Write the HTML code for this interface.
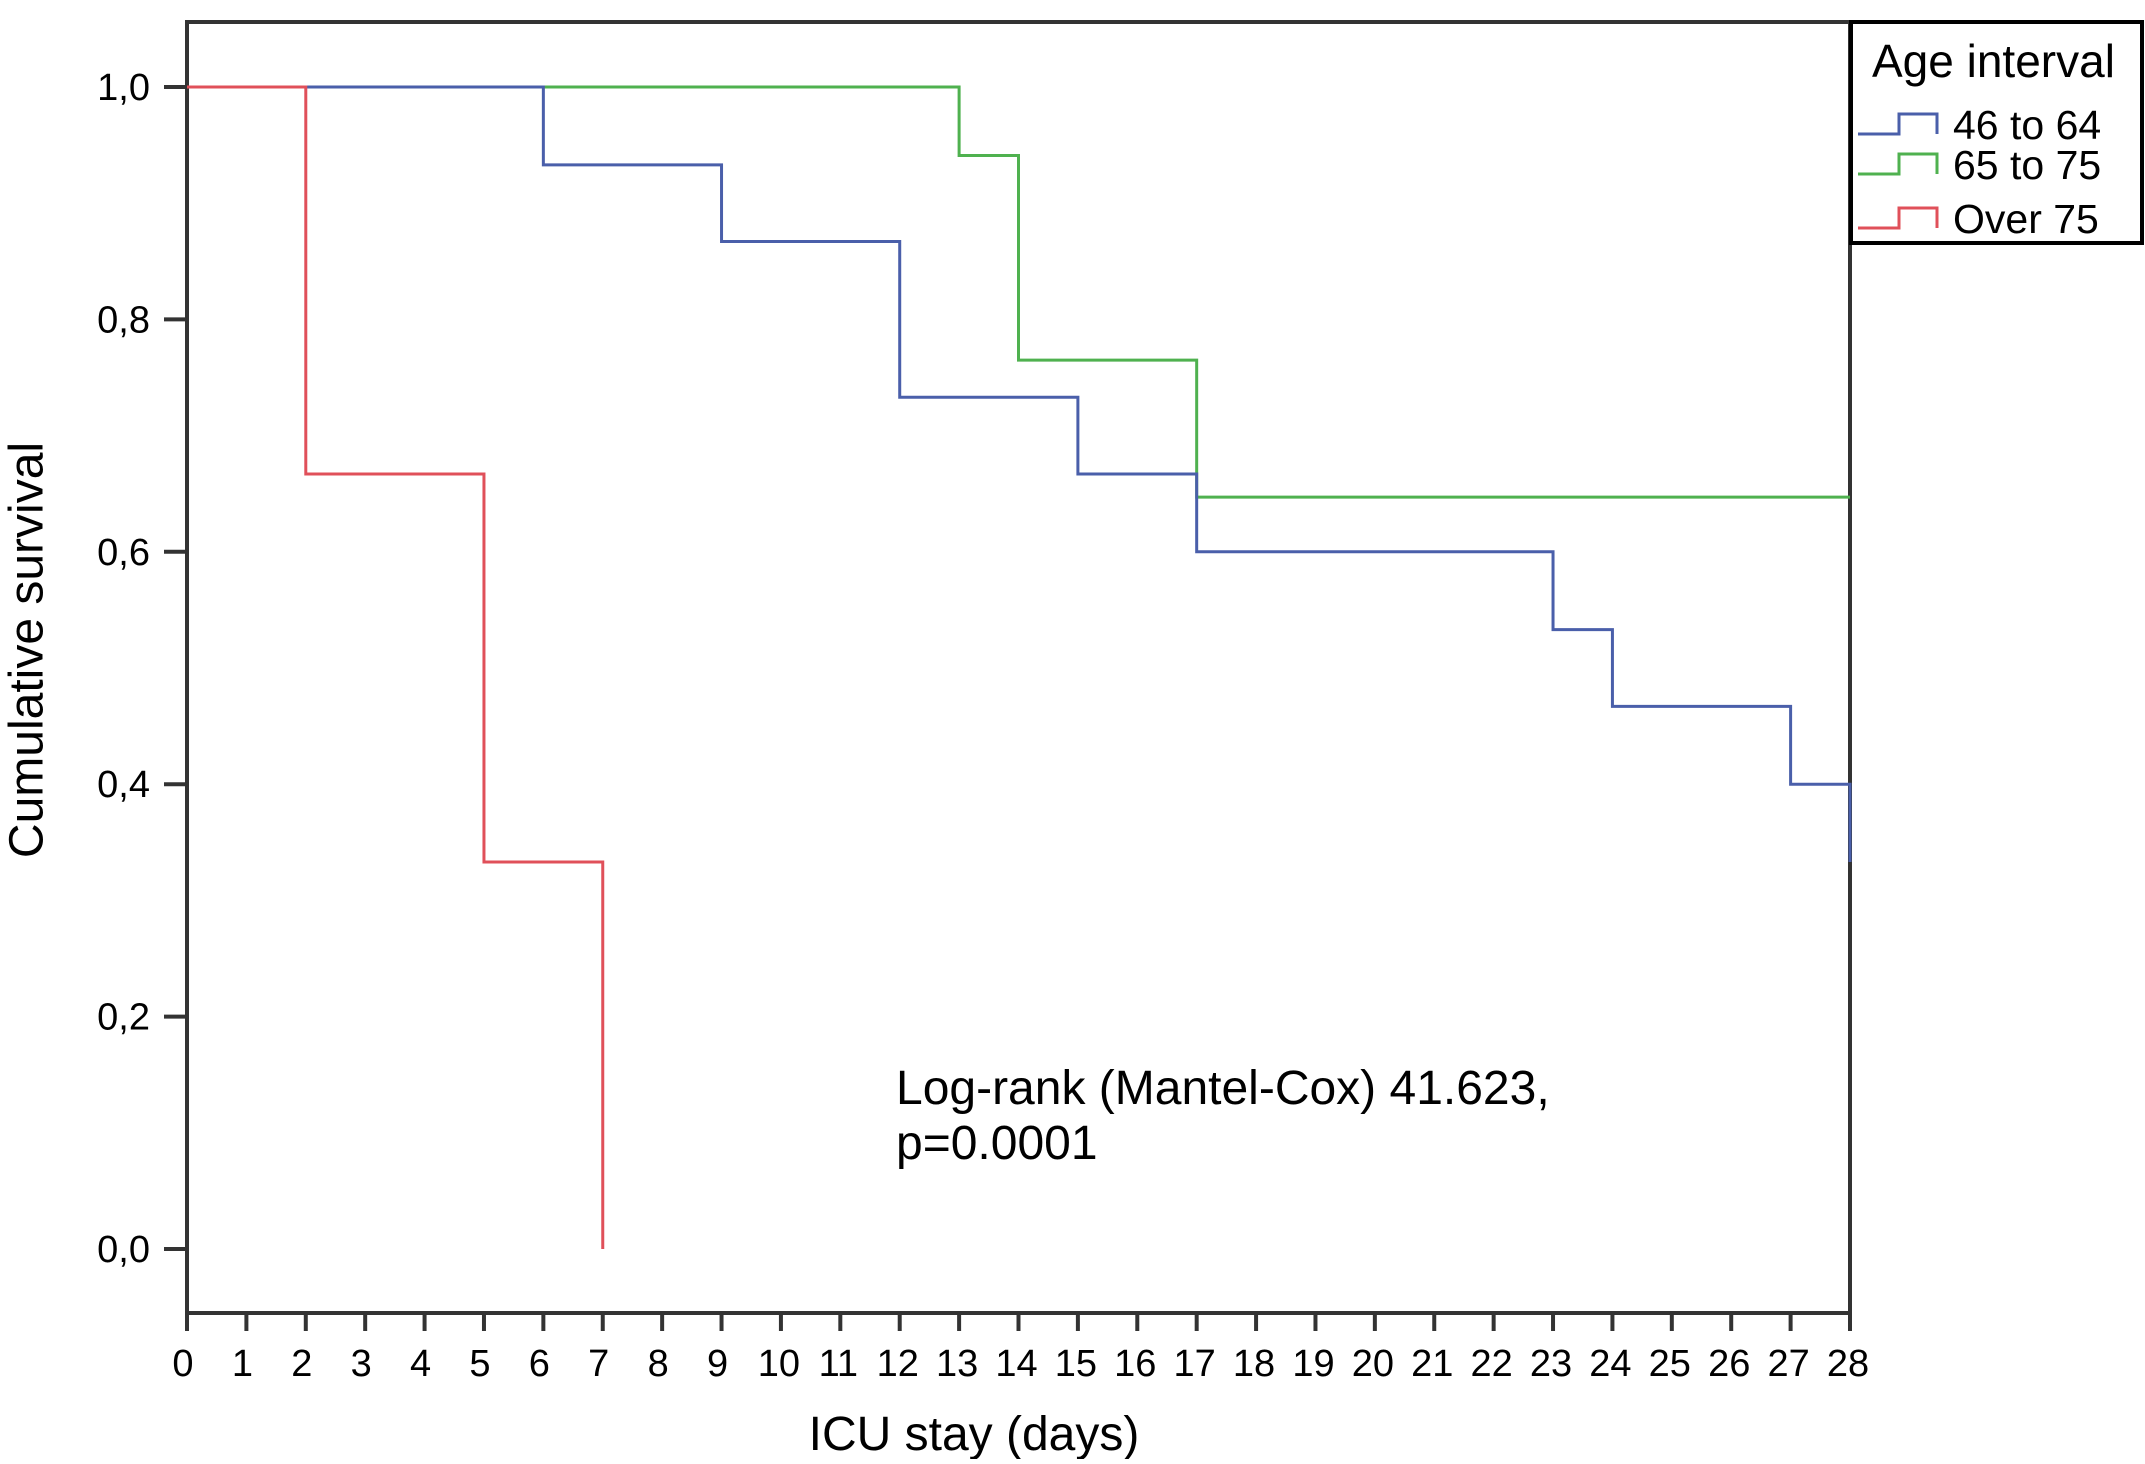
<!DOCTYPE html>
<html><head><meta charset="utf-8"><style>
html,body{margin:0;padding:0;background:#fff;}
svg text{font-family:"Liberation Sans",Arial,sans-serif;fill:#000;}
</style></head><body>
<svg id="chart" width="2145" height="1459" viewBox="0 0 2145 1459" xmlns="http://www.w3.org/2000/svg">
<rect x="187" y="22" width="1663" height="1291" fill="none" stroke="#333" stroke-width="4"/>
<g id="yaxis"></g>
<g id="xaxis"></g>
<g id="series"></g>
<text x="27" y="650" font-size="48" text-anchor="middle" transform="rotate(-90 27 650)" dominant-baseline="central">Cumulative survival</text>
<text x="974" y="1450" font-size="48" text-anchor="middle">ICU stay (days)</text>
<text x="896" y="1104" font-size="48">Log-rank (Mantel-Cox) 41.623,</text>
<text x="896" y="1159" font-size="48">p=0.0001</text>
<g>
<rect x="1851" y="22" width="291" height="221" fill="#fff" stroke="#000" stroke-width="4"/>
<text x="1872" y="77" font-size="46">Age interval</text>
<g id="legend-entries"></g>
</g>
</svg>
<script>
const xTicks = [0,1,2,3,4,5,6,7,8,9,10,11,12,13,14,15,16,17,18,19,20,21,22,23,24,25,26,27,28];
const yTicks = [0,0.2,0.4,0.6,0.8,1.0];
const yTickLabels = ["0,0","0,2","0,4","0,6","0,8","1,0"];
const seriesNames = ["46 to 64","65 to 75","Over 75"];
const seriesColors = ["#4a5faa","#4fb14f","#e0505a"];
const blueTimes = [0,6,9,12,15,17,23,24,27,28];
const blueSurv = [1.0,0.933,0.867,0.733,0.667,0.6,0.533,0.467,0.4,0.333];
const greenTimes = [0,13,14,17];
const greenSurv = [1.0,0.941,0.765,0.647];
const greenEnd = 28;
const redTimes = [0,2,5,7];
const redSurv = [1.0,0.667,0.333,0.0];
const blueEnd = 28, redEnd = 7;

const NS="http://www.w3.org/2000/svg";
const X = d => 187 + d*(1850-187)/28;
const Y = v => 1249 - v*(1249-87);
function mk(tag, attrs, parent){const e=document.createElementNS(NS,tag);for(const k in attrs)e.setAttribute(k,attrs[k]);parent.appendChild(e);return e;}
const ya=document.getElementById('yaxis'), xa=document.getElementById('xaxis'), sg=document.getElementById('series'), lg=document.getElementById('legend-entries');
yTicks.forEach((v,i)=>{
  const l=mk('line',{x1:164,x2:187,y1:Y(v),y2:Y(v),stroke:'#333','stroke-width':4},ya);
  
  
  const t=mk('text',{x:150,y:Y(v)+13,'font-size':38,'text-anchor':'end'},ya);
  t.textContent=yTickLabels[i];
  
  
});
xTicks.forEach(d=>{
  const l=mk('line',{x1:X(d),x2:X(d),y1:1313,y2:1331,stroke:'#333','stroke-width':4},xa);
  
  
  const t=mk('text',{x:X(d)-(d>=10?2:4),y:1376,'font-size':38,'text-anchor':'middle'},xa);
  t.textContent=String(d);
  
  
});
function stepPath(times,surv,end){
  let p=`M${X(times[0])},${Y(surv[0])}`;
  for(let i=1;i<times.length;i++){p+=` H${X(times[i])} V${Y(surv[i])}`;}
  if(end>times[times.length-1]) p+=` H${X(end)}`;
  return p;
}
const all=[[blueTimes,blueSurv,blueEnd],[greenTimes,greenSurv,greenEnd],[redTimes,redSurv,redEnd]];
[1,0,2].forEach(i=>{
  const [t,s,e]=all[i];
  const p=mk('path',{d:stepPath(t,s,e),fill:'none',stroke:seriesColors[i],'stroke-width':3},sg);
  
  
});
seriesNames.forEach((n,i)=>{
  const y=[124,164,218][i];
  const p=mk('path',{d:`M1858,${y+10} H1899 V${y-10} H1937 V${y+10}`,fill:'none',stroke:seriesColors[i],'stroke-width':3},lg);
  
  
  const t=mk('text',{x:1953,y:y+15,'font-size':41},lg);
  t.textContent=n;
  
  
});
</script>
</body></html>
